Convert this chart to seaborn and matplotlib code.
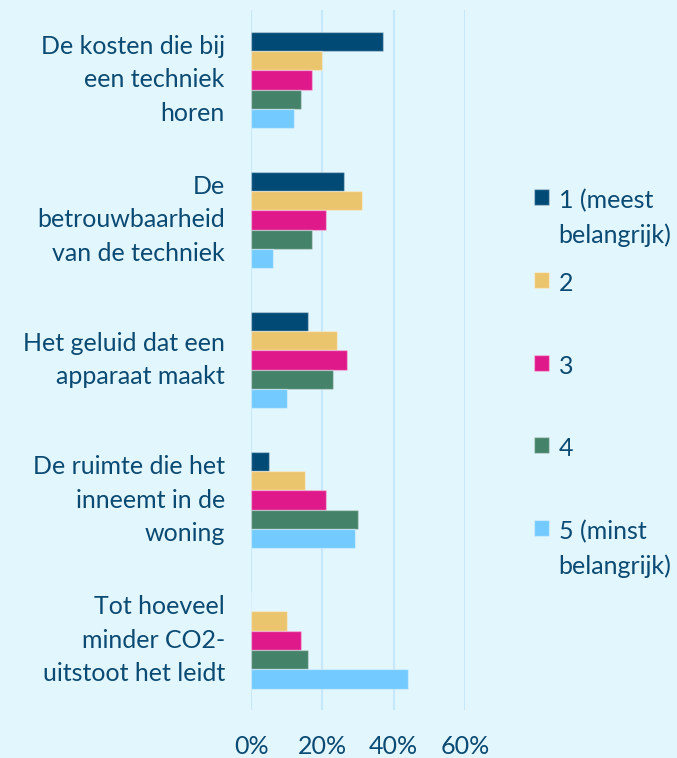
import numpy as np
import pandas as pd
import matplotlib
matplotlib.use("Agg")
import matplotlib.pyplot as plt
import seaborn as sns

# categories (y axis), wrapped as in the original
categories = [
    "De kosten die bij\neen techniek\nhoren",
    "De\nbetrouwbaarheid\nvan de techniek",
    "Het geluid dat een\napparaat maakt",
    "De ruimte die het\ninneemt in de\nwoning",
    "Tot hoeveel\nminder CO2-\nuitstoot het leidt",
]
ranks = ["1 (meest\nbelangrijk)", "2", "3", "4", "5 (minst\nbelangrijk)"]

# share of respondents per rank (fractions)
rank1 = [0.37, 0.26, 0.16, 0.05, 0.00]
rank2 = [0.20, 0.31, 0.24, 0.15, 0.10]
rank3 = [0.17, 0.21, 0.27, 0.21, 0.14]
rank4 = [0.14, 0.17, 0.23, 0.30, 0.16]
rank5 = [0.12, 0.06, 0.10, 0.29, 0.44]

xticks = [0, 0.2, 0.4, 0.6]
xticklabels = ["0%", "20%", "40%", "60%"]

colors = ["#004A75", "#EBC56E", "#E0198A", "#44826A", "#72CAFF"]
bg = "#E2F6FE"
txt = "#0B4A72"

rows = []
for r, vals in zip(ranks, [rank1, rank2, rank3, rank4, rank5]):
    for c, v in zip(categories, vals):
        rows.append({"categorie": c, "rang": r, "aandeel": v})
df = pd.DataFrame(rows)

sns.set_style("white")
plt.rcParams["font.family"] = ["Lato", "DejaVu Sans"]

fig = plt.figure(figsize=(6.77, 7.58), dpi=100, facecolor=bg)
ax = fig.add_axes([0.371, 0.063, 0.316, 0.924])
ax.set_facecolor(bg)

sns.barplot(data=df, y="categorie", x="aandeel", hue="rang",
            order=categories, hue_order=ranks, palette=colors,
            saturation=1, orient="h", width=0.69, ax=ax,
            edgecolor=(1, 1, 1, 0.35), linewidth=1)

ax.set_xlim(0, 0.6)
ax.set_xticks(xticks)
ax.set_xticklabels(xticklabels)
ax.grid(axis="x", color="#C6E8FA", linewidth=1.5)
ax.set_axisbelow(True)
for s in ax.spines.values():
    s.set_visible(False)
ax.set_xlabel("")
ax.set_ylabel("")
ax.tick_params(axis="both", length=0, labelcolor=txt, labelsize=18)
ax.tick_params(axis="y", pad=19)
ax.tick_params(axis="x", pad=18)
plt.setp(ax.get_yticklabels(), linespacing=1.55, va="center")

# legend: every entry two lines high, square next to the first line
handles, labels = ax.get_legend_handles_labels()
ax.legend_.remove()
labels = [l if "\n" in l else l + "\n " for l in labels]
leg = fig.legend(handles, labels, loc="center left",
                 bbox_to_anchor=(0.755, 0.494), frameon=False,
                 fontsize=18, labelcolor=txt, handlelength=0.6,
                 handleheight=0.6, handletextpad=0.4, labelspacing=1.0)
for t in leg.get_texts():
    t.set_linespacing(1.6)
for col in leg._legend_handle_box.get_children():
    for item in col.get_children():
        item.align = "top"

fig.savefig("out.png", dpi=100, facecolor=bg)
